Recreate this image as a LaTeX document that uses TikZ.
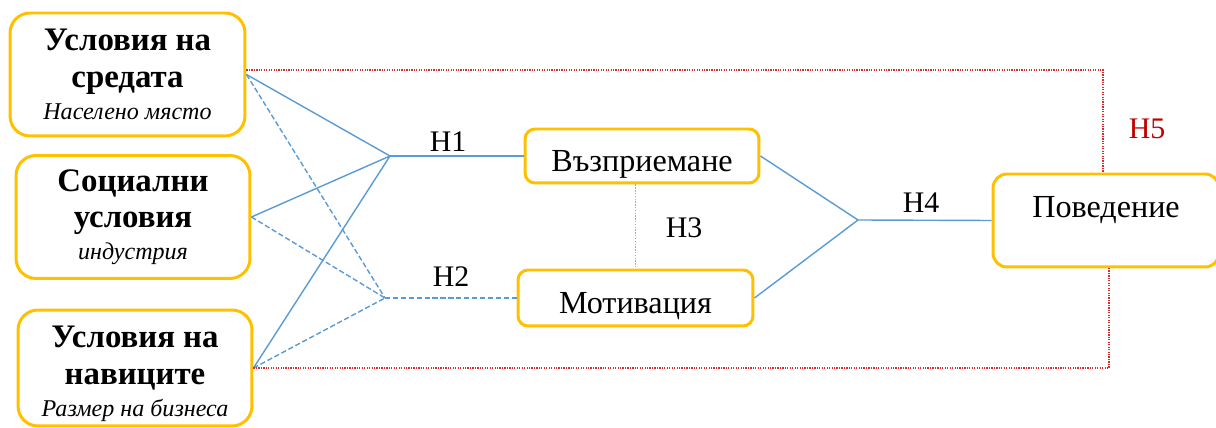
\documentclass[tikz,border=0pt]{standalone}
\usepackage{fontspec}
\setmainfont{Liberation Serif}
\usetikzlibrary{shapes}

\definecolor{boxgold}{RGB}{255,192,0}
\definecolor{linkblue}{RGB}{91,155,213}
\definecolor{hfiveline}{RGB}{215,45,45}
\definecolor{hfivetext}{RGB}{192,0,0}

\tikzset{
  factor/.style={draw=boxgold, line width=1.7pt, rounded corners=0.4cm, align=center,
    inner sep=0pt, font=\fontsize{18.7}{21}\selectfont\bfseries},
  stage/.style={draw=boxgold, line width=1.7pt, rounded corners=0.2cm, inner sep=0pt,
    font=\fontsize{18.3}{21}\selectfont, text height=18pt, text depth=0pt},
  link/.style={draw=linkblue, line width=0.8pt},
  weak/.style={link, dash pattern=on 3pt off 1.5pt},
  hthree/.style={link, draw=linkblue!75, dash pattern=on 0.8pt off 0.8pt},
  hfive/.style={draw=hfiveline, line width=0.8pt, dash pattern=on 0.7pt off 0.7pt},
  hyp/.style={font=\fontsize{17}{20}\selectfont},
}
\newcommand{\fsub}{\fontsize{13.7}{16}\selectfont\mdseries\itshape}

\begin{document}
\begin{tikzpicture}[x=0.02cm, y=-0.02cm]
\useasboundingbox (0,0) rectangle (1216,428);

% conditions on the left
\node[factor, minimum width=4.7cm, minimum height=2.46cm] (s1) at (127.5,74.5)
  {Условия на\\средата\\[-3pt]{\fsub Населено място}};
\node[factor, minimum width=4.68cm, minimum height=2.46cm] (s2) at (133,217)
  {Социални\\условия\\[-3pt]{\fsub индустрия}};
\node[factor, minimum width=4.68cm, minimum height=2.32cm] (s3) at (135,368)
  {\rule{0pt}{19pt}Условия на\\навиците\\[-3pt]{\fsub Размер на бизнеса}};

% mediators and outcome
\node[stage, minimum width=4.68cm, minimum height=1.08cm] (vaz) at (642,156) {Възприемане};
\node[stage, minimum width=4.7cm, minimum height=1.12cm] (mot) at (635.5,298) {Мотивация};
\node[stage, rounded corners=0.28cm, minimum width=4.52cm, minimum height=1.86cm,
  text height=12pt, text depth=15pt] (beh) at (1106,220.5) {Поведение};

\coordinate (j1) at (390,156);
\coordinate (j2) at (385,298);
\coordinate (j3) at (858,220);

% H1 / H2 fans
\foreach \s in {s1,s2,s3} {
  \draw[link] (\s.east) -- (j1);
  \draw[weak] (\s.east) -- (j2);
}
\draw[link] (j1) -- (vaz.west);
\draw[weak] (j2) -- (mot.west);

% H3 and H4
\draw[hthree] (vaz.south -| mot.north) -- (mot.north);
\draw[link] (vaz.east) -- (j3);
\draw[link] (mot.east) -- (j3);
\draw[link] (j3) -- (beh.west);

% H5 direct paths
\draw[hfive] ([yshift=0.09cm]s1.east) -| ([xshift=-0.06cm]beh.north);
\draw[hfive] (s3.east) -| ([xshift=0.06cm]beh.south);

\node[hyp] (h1) at (448,142) {H1};
\node[hyp] (h2) at (451,277) {H2};
\node[hyp] (h3) at (684,228) {H3};
\node[hyp] (h4) at (921,203) {H4};
\node[hyp, text=hfivetext] (h5) at (1147,129) {H5};
\end{tikzpicture}
\end{document}
